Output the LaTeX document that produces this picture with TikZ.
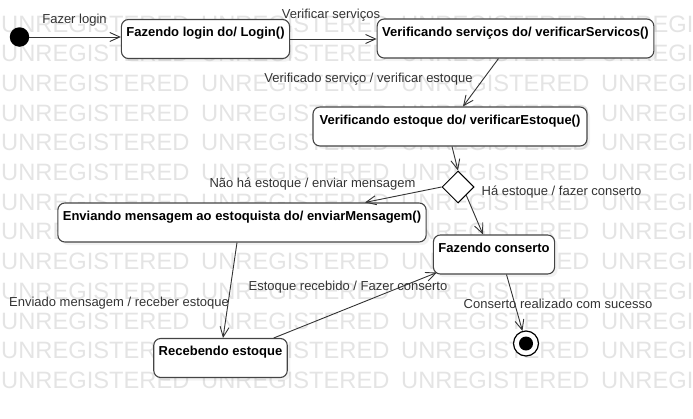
\documentclass[tikz,border=0pt]{standalone}
\usepackage{fontspec}
\setmainfont{Liberation Sans}
\usepackage{tikz}
\usetikzlibrary{positioning,calc,shapes.geometric,arrows.meta,shadows}
\definecolor{cLine}{HTML}{333333}
\definecolor{cBorder}{HTML}{444444}
\definecolor{cMark}{HTML}{E4E4E4}
\tikzset{
  estado/.style={rectangle,rounded corners=7pt,draw=cBorder,line width=1.1pt,fill=white,font=\fontsize{13}{15}\selectfont\bfseries,inner xsep=5pt,inner ysep=0pt,text height=17pt,text depth=22pt,drop shadow={opacity=0.10,shadow xshift=3pt,shadow yshift=-3pt}},
  decisao/.style={diamond,draw=black,line width=1pt,fill=white,minimum width=32pt,minimum height=32pt,inner sep=0pt,aspect=1},
  inicio/.style={circle,fill=black,minimum size=19.5pt,inner sep=0pt},
  fim/.style={circle,draw=black,line width=1.2pt,fill=white,minimum size=25pt,inner sep=0pt,path picture={\fill[black] (path picture bounding box.center) circle (7pt);}},
  rotulo/.style={font=\fontsize{13}{15}\selectfont,inner sep=0pt,text height=9.5pt,text depth=2.7pt,text=cLine},
  marca/.style={font=\fontsize{23.7}{26}\selectfont,inner sep=0pt,anchor=base west,text=cMark},
  seta/.style={-{Straight Barb[length=10pt,width=9pt]},line width=0.9pt,cLine},
}

\begin{document}
\begin{tikzpicture}[x=1pt,y=-1pt]
  \useasboundingbox (0,0) rectangle (693,418);
  \foreach \r in {0,...,12} \foreach \c in {0,...,3} \node[marca] (m\r-\c) at ({1+200*\c},{32+29.7*\r}) {UNREGISTERED};
  \node[inicio] (ini) at (19.5,37) {};
  \node[estado,minimum width=167pt] (login) at (205.5,39) {Fazendo login do/ Login()};
  \node[estado,minimum width=275pt] (servicos) at (515.5,38.5) {Verificando serviços do/ verificarServicos()};
  \node[estado,minimum width=274pt] (estoque) at (450,126.5) {Verificando estoque do/ verificarEstoque()};
  \node[decisao] (dec) at (458,187) {};
  \node[estado,minimum width=368pt] (mensagem) at (242,222.5) {Enviando mensagem ao estoquista do/ enviarMensagem()};
  \node[estado,minimum width=120pt] (conserto) at (494,254.5) {Fazendo conserto};
  \node[estado,minimum width=133pt] (receb) at (220.5,358) {Recebendo estoque};
  \node[fim] (final) at (526,343.5) {};
  \draw[seta] (ini) -- (ini -| login.west);
  \draw[seta] (login.east) -- (login.east -| servicos.west);
  \draw[seta] ($(servicos.south)+(-17,0)$) -- ($(estoque.north)+(13,0)$);
  \draw[seta] ($(estoque.south)+(2,0)$) -- (dec.north);
  \draw[seta] (dec.west) -- ($(mensagem.north)+(123,0)$);
  \draw[seta] (dec.south east) -- ($(conserto.north)+(-11,0)$);
  \draw[seta] ($(mensagem.south)+(-5,0)$) -- ($(receb.north)+(2.5,0)$);
  \draw[seta] ($(receb.north east)+(-14,0)$) -- ($(conserto.south west)+(4,-2)$);
  \draw[seta] ($(conserto.south)+(12.5,0)$) -- (final);
  \node[rotulo] (lLogin) at (74.5,20) {Fazer login};
  \node[rotulo] (lServ) at (331,15) {Verificar serviços};
  \node[rotulo] (lEst) at (368.5,79) {Verificado serviço / verificar estoque};
  \node[rotulo] (lNao) at (312.5,184) {Não há estoque / enviar mensagem};
  \node[rotulo] (lHa) at (561.5,192) {Há estoque / fazer conserto};
  \node[rotulo] (lEnv) at (119,303) {Enviado mensagem / receber estoque};
  \node[rotulo] (lRec) at (348,287) {Estoque recebido / Fazer conserto};
  \node[rotulo] (lFim) at (558,305) {Conserto realizado com sucesso};
\end{tikzpicture}
\end{document}
